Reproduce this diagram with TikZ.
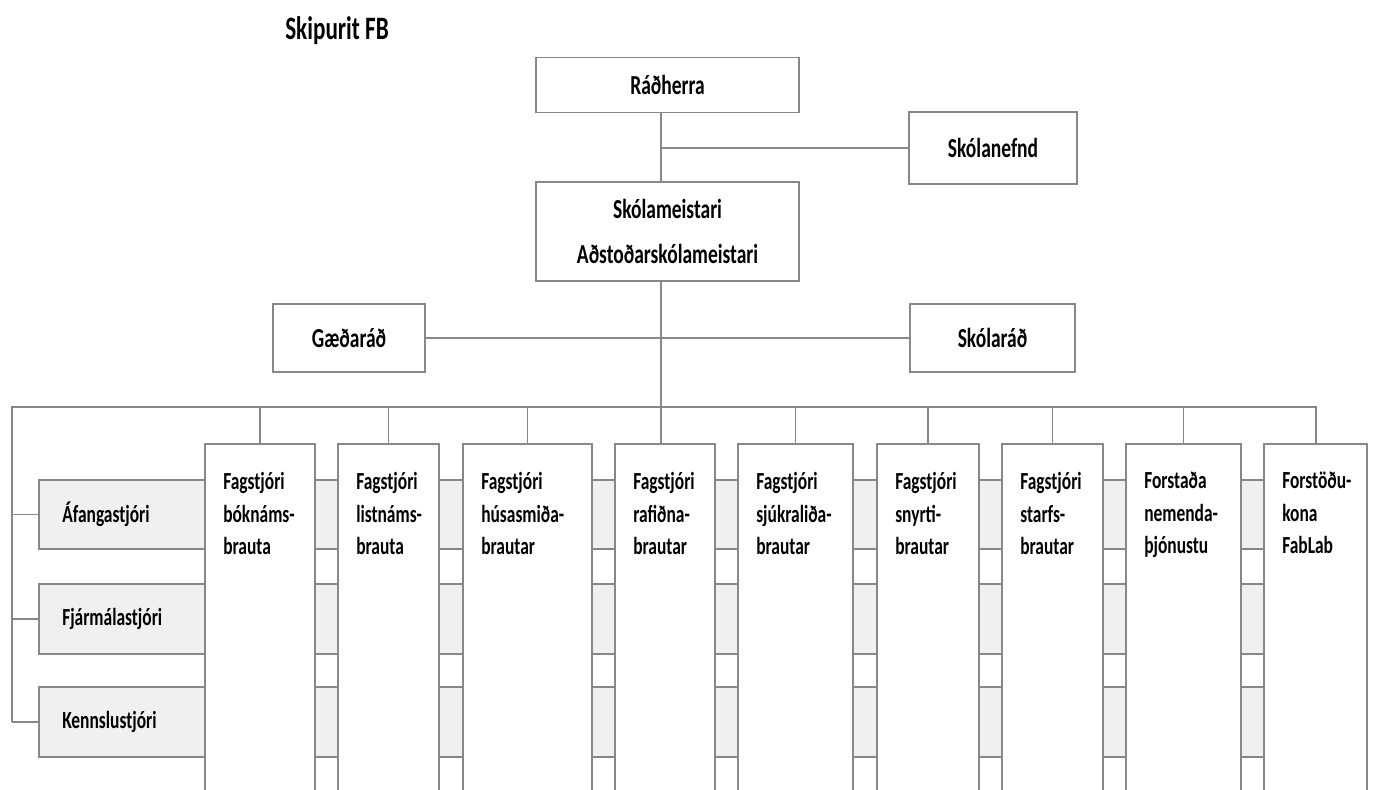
\documentclass[tikz,border=0pt]{standalone}
\usepackage{fontspec}
\setmainfont{Carlito}[FakeStretch=0.71]
\usetikzlibrary{fit}
\definecolor{ln}{HTML}{888888}
\definecolor{bandfill}{HTML}{F0F0F0}
\begin{document}
\begin{tikzpicture}[x=0.75pt,y=-0.75pt,
  box/.style={draw=ln, line width=1.3pt, fill=white, inner sep=0pt},
  band/.style={draw=ln, line width=1.3pt, fill=bandfill, inner sep=0pt},
  topfont/.style={font=\fontsize{20.6}{33.75}\selectfont\bfseries},
  lowfont/.style={font=\fontsize{18.4}{24.4}\selectfont\bfseries},
  conn/.style={draw=ln, line width=1.3pt}]
\useasboundingbox (0,0) rectangle (1373,789);
\clip (0,0) rectangle (1373,789);
\node[font=\fontsize{24.5}{30}\selectfont\bfseries, anchor=base west, inner sep=0pt] (title) at (285,39) {Skipurit FB};

\coordinate (spine) at (661,0);
\coordinate (busL) at (12,407);
\coordinate (busR) at (1316,407);

\node[box, topfont, minimum width=197.25pt, minimum height=41.25pt] (rad) at (667.5,85) {Ráðherra};
\node[box, topfont, minimum width=126pt, minimum height=54pt] (nefnd) at (993,148) {Skólanefnd};
\node[box, topfont, align=center, minimum width=197.25pt, minimum height=74.25pt] (skm) at (667.5,231.5) {Skólameistari\\Aðstoðarskólameistari};
\node[box, topfont, minimum width=114pt, minimum height=51pt] (gaed) at (349,338) {Gæðaráð};
\node[box, topfont, minimum width=123.75pt, minimum height=51pt] (skr) at (992.5,338) {Skólaráð};

\foreach \i/\ya/\yb/\t in {1/480/549/Áfangastjóri, 2/584/654/Fjármálastjóri, 3/687/757/Kennslustjóri}{
  \node[band, fit={(39,\ya)(1300,\yb)}] (band\i) {};
  \node[lowfont, anchor=west, inner sep=0pt] (bt\i) at (62,{(\ya+\yb)/2}) {\t};
  \draw[conn] (band\i.west -| busL) -- (band\i.west);
}

\foreach \i/\xa/\xb/\t in {
  1/205/315/Fagstjóri\\bóknáms-\\brauta,
  2/338/439/Fagstjóri\\listnáms-\\brauta,
  3/463/592/Fagstjóri\\húsasmiða-\\brautar,
  4/615/715/Fagstjóri\\rafiðna-\\brautar,
  5/738/853/Fagstjóri\\sjúkraliða-\\brautar,
  6/877/979/Fagstjóri\\snyrti-\\brautar,
  7/1002/1103/Fagstjóri\\starfs-\\brautar,
  8/1126/1241/Forstaða\\nemenda-\\þjónustu,
  9/1264/1367/Forstöðu-\\kona\\FabLab}{
  \node[box, fit={(\xa,444)(\xb,800)}] (col\i) {};
  \node[lowfont, anchor=north west, align=left, inner sep=0pt] (ct\i) at ({\xa+18},472) {\t};
}

\draw[conn] (rad.south -| spine) -- (skm.north -| spine);
\draw[conn] (nefnd.west -| spine) -- (nefnd.west);
\draw[conn] (gaed.east) -- (skr.west);
\draw[conn] (skm.south -| spine) -- (col4.north -| spine);
\draw[conn] (band3.west -| busL) -- (busL) -- (busR) -- (busR |- col9.north);
\foreach \i in {1,2,3,5,6,7,8}{
  \draw[conn] (col\i.north |- busL) -- (col\i.north);
}
\end{tikzpicture}
\end{document}
